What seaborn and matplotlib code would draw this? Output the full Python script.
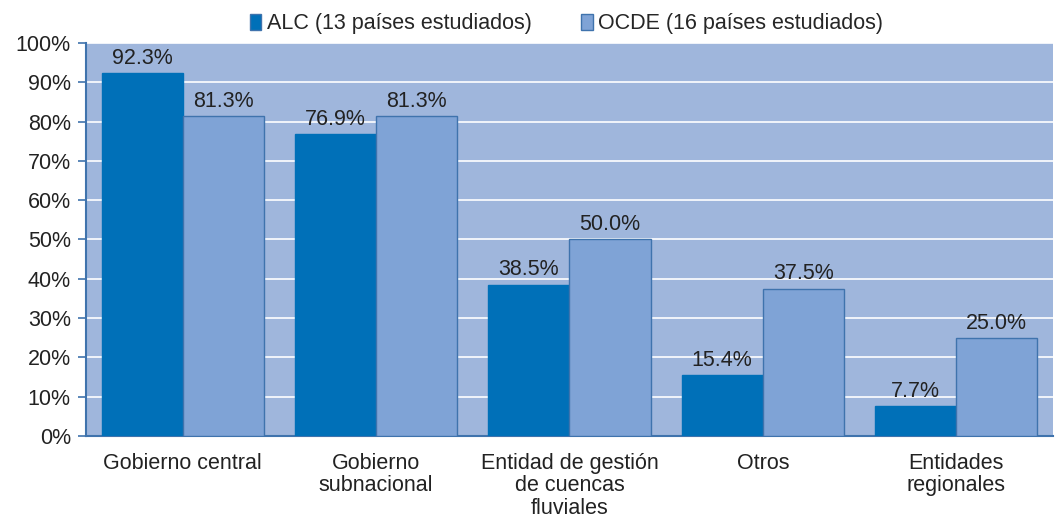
import matplotlib
matplotlib.use("Agg")
import matplotlib.pyplot as plt
from matplotlib.ticker import FixedLocator, PercentFormatter
import seaborn as sns
import pandas as pd
import numpy as np

categorias = ["Gobierno central", "Gobierno\nsubnacional",
              "Entidad de gestión\nde cuencas\nfluviales", "Otros",
              "Entidades\nregionales"]
series = ["ALC (13 países estudiados)", "OCDE (16 países estudiados)"]
alc = [92.3, 76.9, 38.5, 15.4, 7.7]
ocde = [81.3, 81.3, 50.0, 37.5, 25.0]

df = pd.DataFrame({
    "categoria": categorias * 2,
    "serie": [series[0]] * len(alc) + [series[1]] * len(ocde),
    "valor": alc + ocde,
})

sns.set_style("white")
plt.rcParams["font.family"] = ["Liberation Sans", "DejaVu Sans"]

spine_col = "#3f73ad"
bg_col = "#9fb6dc"
fs = 15.5

fig = plt.figure(figsize=(10.57, 5.23), dpi=100)
ax = fig.add_axes([0.0814, 0.1663, 0.9146, 0.7517])
ax.set_facecolor(bg_col)

sns.barplot(data=df, x="categoria", y="valor", hue="serie",
            palette=["#0070b8", "#7fa3d6"], saturation=1, width=0.84, gap=0,
            edgecolor=spine_col, linewidth=1.0, ax=ax, zorder=3)
# ALC bars without visible edge
for p in ax.containers[0]:
    p.set_edgecolor("#0070b8")

for c in ax.containers:
    ax.bar_label(c, labels=[f"{v:.1f}%" for v in c.datavalues],
                 padding=3, fontsize=fs, color="#222222")

ax.set_ylim(0, 100)
ax.set_xlim(-0.5, len(categorias) - 0.5)
ax.set_yticks(np.arange(0, 101, 10))
ax.yaxis.set_major_formatter(PercentFormatter(decimals=0))
ax.grid(axis="y", color="white", linewidth=1.2, zorder=0)
ax.set_axisbelow(True)

ax.xaxis.set_minor_locator(FixedLocator(np.arange(-0.5, len(categorias), 1.0)))
ax.tick_params(axis="x", which="major", length=0, pad=12, labelsize=fs,
               colors="#222222")
ax.tick_params(axis="x", which="minor", length=6, color=spine_col, width=1.2)
ax.tick_params(axis="y", length=6, pad=5, color=spine_col, width=1.2,
               labelsize=fs, labelcolor="#222222", left=True)
for t in ax.get_xticklabels():
    t.set_linespacing(1.1)

for s in ["top", "right"]:
    ax.spines[s].set_visible(False)
for s in ["left", "bottom"]:
    ax.spines[s].set_color(spine_col)
    ax.spines[s].set_linewidth(1.5)

ax.set_xlabel("")
ax.set_ylabel("")

leg = ax.legend(loc="lower center", bbox_to_anchor=(0.497, 1.0), ncol=2,
                frameon=False, fontsize=fs, handlelength=0.55,
                handleheight=0.8, handletextpad=0.25, columnspacing=2.3,
                borderaxespad=0.0)
for h in leg.legend_handles:
    h.set_edgecolor(spine_col)

fig.savefig("out.png", dpi=100)
